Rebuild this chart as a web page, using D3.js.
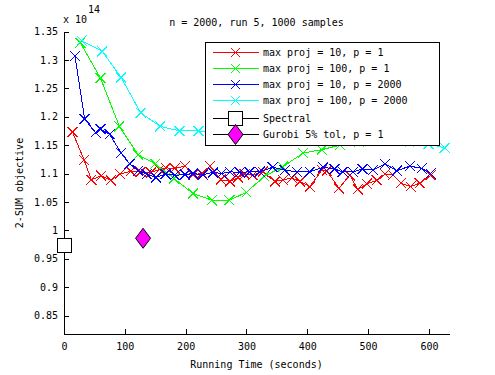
<!DOCTYPE html>
<html>
<head>
<meta charset="utf-8">
<script src="https://cdn.jsdelivr.net/npm/d3@7"></script>
<style>
  body { margin: 0; background: #fff; }
  svg text { font-family: "DejaVu Sans Mono", monospace; font-size: 10px; fill: #000; }
</style>
</head>
<body>
<div id="chart"></div>
<script>
// values in units of 1e14, time in seconds
const tRed = [14, 33, 45, 61, 77, 92, 110, 126, 143, 157, 167, 182, 199, 212, 227, 240, 258, 273, 286, 297, 310, 327, 347, 360, 375, 388, 404, 424, 432, 452, 470, 483, 498, 514, 528, 541, 554, 570, 585, 603];
const vRed = [1.173, 1.124, 1.089, 1.096, 1.088, 1.099, 1.104, 1.103, 1.102, 1.107, 1.110, 1.109, 1.113, 1.098, 1.100, 1.113, 1.089, 1.086, 1.093, 1.099, 1.097, 1.103, 1.086, 1.089, 1.092, 1.086, 1.077, 1.106, 1.105, 1.074, 1.097, 1.072, 1.082, 1.088, 1.099, 1.097, 1.083, 1.077, 1.083, 1.097];

const tGreen = [27, 60, 91, 122, 150, 181, 212, 243, 272, 300, 329, 360, 393, 424, 454, 485, 515, 546, 576, 607];
const vGreen = [1.330, 1.268, 1.183, 1.133, 1.117, 1.091, 1.065, 1.053, 1.053, 1.067, 1.095, 1.112, 1.136, 1.142, 1.150, 1.155, 1.158, 1.160, 1.162, 1.163];

const tBlue = [18, 34, 52, 60, 75, 94, 108, 122, 136, 151, 167, 182, 199, 212, 228, 245, 259, 273, 289, 305, 322, 343, 363, 383, 404, 426, 445, 458, 475, 491, 508, 528, 547, 569, 588, 603];
const vBlue = [1.307, 1.196, 1.172, 1.178, 1.169, 1.136, 1.117, 1.105, 1.099, 1.093, 1.099, 1.097, 1.098, 1.100, 1.098, 1.102, 1.100, 1.103, 1.102, 1.103, 1.103, 1.111, 1.106, 1.103, 1.103, 1.111, 1.108, 1.103, 1.103, 1.108, 1.106, 1.117, 1.105, 1.113, 1.109, 1.100];

const tCyan = [29, 63, 94, 126, 158, 190, 221, 252, 284, 316, 347, 379, 410, 442, 473, 505, 536, 568, 599, 626];
const vCyan = [1.334, 1.315, 1.269, 1.207, 1.183, 1.175, 1.175, 1.173, 1.172, 1.171, 1.170, 1.168, 1.166, 1.165, 1.163, 1.160, 1.158, 1.155, 1.152, 1.145];

const spectral = { t: 0, v: 0.974 };
const gurobi = { t: 130, v: 0.986 };

const xTicks = [0, 100, 200, 300, 400, 500, 600];
const yTicks = [0.85, 0.9, 0.95, 1, 1.05, 1.1, 1.15, 1.2, 1.25, 1.3, 1.35];
const yTickLabels = ['0.85', '0.9', '0.95', '1', '1.05', '1.1', '1.15', '1.2', '1.25', '1.3', '1.35'];

const seriesNames = ['max proj = 10, p = 1', 'max proj = 100, p = 1', 'max proj = 10, p = 2000', 'max proj = 100, p = 2000', 'Spectral', 'Gurobi 5% tol, p = 1'];
const seriesColors = ['#ff0000', '#00ff00', '#0000ff', '#00ffff'];

const W = 495, H = 375;
const plot = { left: 64, right: 449, top: 31.5, bottom: 334 };

const svg = d3.select('#chart').append('svg')
  .attr('width', W)
  .attr('height', H);

const x = d3.scaleLinear().domain([0, 633]).range([plot.left, plot.right]);
const y = d3.scaleLinear().domain([0.8175, 1.35]).range([plot.bottom, plot.top]);

// Axes
svg.append('g')
  .attr('transform', `translate(0,${plot.bottom})`)
  .call(d3.axisBottom(x).tickValues(xTicks).tickFormat(d3.format('d')).tickSizeInner(-5).tickSizeOuter(0).tickPadding(9));

svg.append('g')
  .attr('transform', `translate(${plot.left},0)`)
  .call(d3.axisLeft(y).tickValues(yTicks).tickFormat((d, i) => yTickLabels[i]).tickSizeInner(-5).tickSizeOuter(0).tickPadding(6));

svg.selectAll('.domain, .tick line')
  .attr('stroke', '#000')
  .attr('shape-rendering', 'crispEdges');
svg.selectAll('.tick text')
  .attr('font-family', '"DejaVu Sans Mono", monospace')
  .attr('font-size', 10)
  .attr('fill', '#000');

// Title and labels
svg.append('text')
  .attr('x', (plot.left + plot.right) / 2)
  .attr('y', 26)
  .attr('text-anchor', 'middle')
  .text('n = 2000, run 5, 1000 samples');

svg.append('text').attr('x', 63).attr('y', 23).text('x 10');
svg.append('text').attr('x', 88).attr('y', 12.5).text('14');

svg.append('text')
  .attr('x', (plot.left + plot.right) / 2)
  .attr('y', 368)
  .attr('text-anchor', 'middle')
  .text('Running Time (seconds)');

svg.append('text')
  .attr('transform', 'translate(23,183) rotate(-90)')
  .attr('text-anchor', 'middle')
  .text('2-SUM objective');

// Series
const series = [
  { t: tRed, v: vRed },
  { t: tGreen, v: vGreen },
  { t: tBlue, v: vBlue },
  { t: tCyan, v: vCyan }
];

const line = d3.line()
  .x(d => x(d[0]))
  .y(d => y(d[1]));

const crossPath = h => `M${-h},${-h}L${h},${h}M${-h},${h}L${h},${-h}`;

series.forEach((s, i) => {
  const pts = s.t.map((t, j) => [t, s.v[j]]);
  const g = svg.append('g').attr('shape-rendering', 'crispEdges');
  g.append('path')
    .attr('d', line(pts))
    .attr('fill', 'none')
    .attr('stroke', seriesColors[i])
    .attr('stroke-width', 1);
  g.selectAll('path.mk')
    .data(pts)
    .join('path')
    .attr('class', 'mk')
    .attr('transform', d => `translate(${x(d[0])},${y(d[1])})`)
    .attr('d', crossPath(5))
    .attr('fill', 'none')
    .attr('stroke', seriesColors[i])
    .attr('stroke-width', 1);
});

// Spectral square
svg.append('rect')
  .attr('x', Math.round(x(spectral.t) - 7) + 0.5)
  .attr('y', Math.round(y(spectral.v) - 7) + 0.5)
  .attr('width', 14)
  .attr('height', 14)
  .attr('fill', '#fff')
  .attr('stroke', '#000')
  .attr('shape-rendering', 'crispEdges');

// Gurobi diamond
const diamond = 'M0,-10L7.5,0L0,10L-7.5,0Z';
svg.append('path')
  .attr('transform', `translate(${x(gurobi.t)},${y(gurobi.v)})`)
  .attr('d', diamond)
  .attr('fill', '#ff00ff')
  .attr('stroke', '#000');

// Legend
const lg = svg.append('g');
lg.append('rect')
  .attr('x', 205.5)
  .attr('y', 42.5)
  .attr('width', 234)
  .attr('height', 103)
  .attr('fill', '#fff')
  .attr('stroke', '#000')
  .attr('shape-rendering', 'crispEdges');

const rowY = [52.5, 68.5, 84.5, 100.5, 118.5, 134.5];
seriesNames.forEach((name, i) => {
  const yy = rowY[i];
  const color = i < 4 ? seriesColors[i] : '#000';
  lg.append('line')
    .attr('x1', 213).attr('x2', 259)
    .attr('y1', yy).attr('y2', yy)
    .attr('stroke', color)
    .attr('shape-rendering', 'crispEdges');
  if (i < 4) {
    lg.append('path')
      .attr('transform', `translate(235.5,${yy})`)
      .attr('d', crossPath(4.5))
      .attr('fill', 'none')
      .attr('stroke', color)
      .attr('shape-rendering', 'crispEdges');
  } else if (i === 4) {
    lg.append('rect')
      .attr('x', 228.5).attr('y', yy - 7)
      .attr('width', 14).attr('height', 14)
      .attr('fill', '#fff').attr('stroke', '#000')
      .attr('shape-rendering', 'crispEdges');
  } else {
    lg.append('path')
      .attr('transform', `translate(235.5,${yy})`)
      .attr('d', diamond)
      .attr('fill', '#ff00ff')
      .attr('stroke', '#000');
  }
  lg.append('text')
    .attr('x', 263)
    .attr('y', yy)
    .attr('dy', '0.35em')
    .text(name);
});
</script>
</body>
</html>
